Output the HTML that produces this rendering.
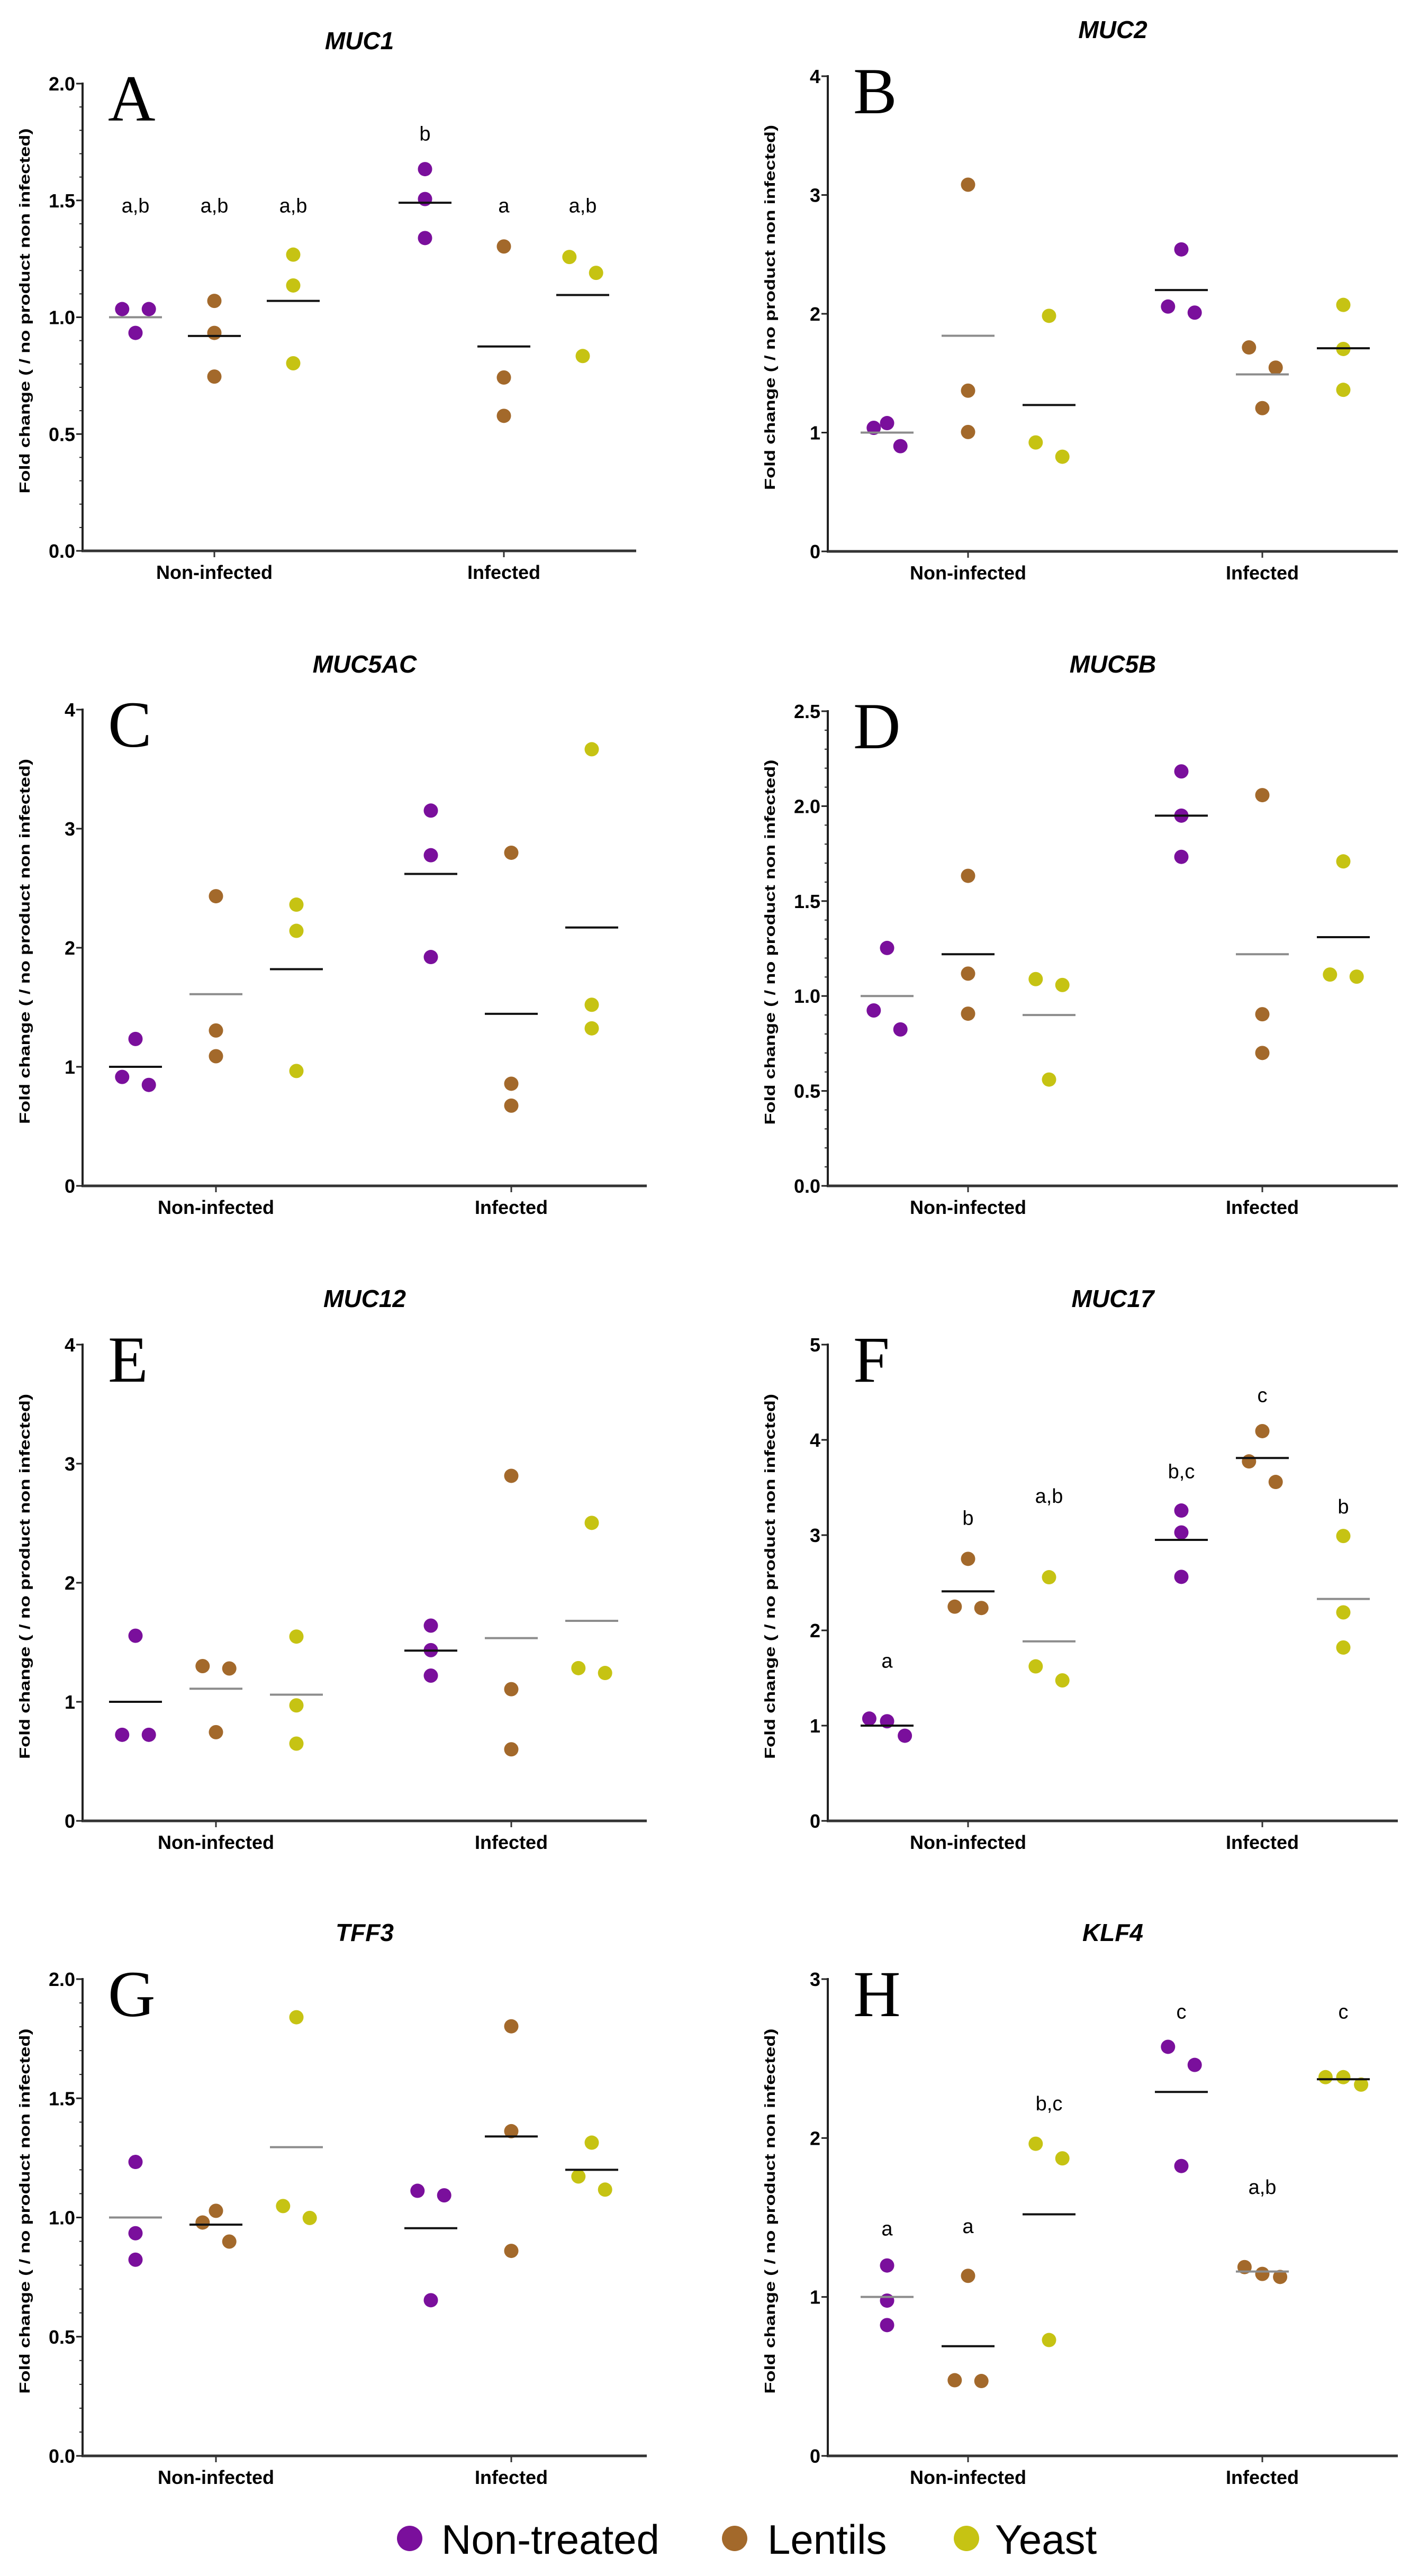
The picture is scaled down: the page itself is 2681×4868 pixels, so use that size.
<!DOCTYPE html>
<html><head><meta charset="utf-8"><title>Mucin gene expression</title>
<style>
html,body{margin:0;padding:0;background:#fff;}
svg{display:block;}
</style></head>
<body>
<svg id="fig" xmlns="http://www.w3.org/2000/svg" width="2681" height="4868" viewBox="0 0 2681 4868"></svg>
<script>
const groups = ["Non-infected","Infected"];
const treatments = ["Non-treated","Lentils","Yeast"];
const colors = ["#7a0f9c","#a3692b","#c6c313"];

// Panel A MUC1
const valuesA = [[1.035,1.035,0.933],[1.07,0.933,0.746],[1.268,1.136,0.803],[1.634,1.506,1.339],[1.303,0.742,0.578],[1.258,1.19,0.834]];
const meansA = [1.0,0.92,1.07,1.49,0.875,1.095];
const lettersA = ["a,b","a,b","a,b","b","a","a,b"];
const letterValA = [1.478,1.478,1.478,1.786,1.478,1.478];
const ticksA = ["0.0","0.5","1.0","1.5","2.0"];
// Panel B MUC2
const valuesB = [[1.04,1.08,0.886],[3.087,1.353,1.005],[1.983,0.917,0.797],[2.542,2.061,2.01],[1.717,1.547,1.206],[2.075,1.704,1.36]];
const meansB = [1.0,1.815,1.232,2.2,1.49,1.71];
const ticksB = ["0","1","2","3","4"];
// Panel C MUC5AC
const valuesC = [[1.234,0.915,0.848],[2.433,1.305,1.089],[2.362,2.142,0.965],[3.152,2.777,1.922],[2.798,0.858,0.674],[3.667,1.521,1.323]];
const meansC = [1.0,1.61,1.82,2.62,1.445,2.17];
const ticksC = ["0","1","2","3","4"];
// Panel D MUC5B
const valuesD = [[1.253,0.924,0.824],[1.633,1.118,0.907],[1.089,1.058,0.56],[2.183,1.95,1.733],[2.058,0.904,0.7],[1.709,1.113,1.102]];
const meansD = [1.0,1.22,0.9,1.95,1.22,1.31];
const ticksD = ["0.0","0.5","1.0","1.5","2.0","2.5"];
// Panel E MUC12
const valuesE = [[1.555,0.723,0.723],[1.3,1.28,0.745],[1.548,0.97,0.649],[1.64,1.434,1.22],[2.898,1.106,0.601],[2.503,1.283,1.242]];
const meansE = [1.0,1.11,1.06,1.43,1.535,1.68];
const ticksE = ["0","1","2","3","4"];
// Panel F MUC17
const valuesF = [[1.074,1.046,0.894],[2.751,2.249,2.235],[2.558,1.622,1.475],[3.258,3.028,2.562],[4.092,3.774,3.558],[2.991,2.189,1.82]];
const meansF = [1.0,2.41,1.885,2.95,3.81,2.33];
const lettersF = ["a","b","a,b","b,c","c","b"];
const letterValF = [1.68,3.18,3.41,3.67,4.47,3.3];
const ticksF = ["0","1","2","3","4","5"];
// Panel G TFF3
const valuesG = [[1.233,0.934,0.823],[1.028,0.979,0.899],[1.84,1.048,0.998],[1.112,1.093,0.653],[1.802,1.362,0.86],[1.314,1.172,1.117]];
const meansG = [1.0,0.97,1.295,0.955,1.34,1.2];
const ticksG = ["0.0","0.5","1.0","1.5","2.0"];
// Panel H KLF4
const valuesH = [[1.198,0.977,0.823],[1.133,0.476,0.471],[1.964,1.872,0.729],[2.574,2.46,1.824],[1.188,1.145,1.126],[2.383,2.383,2.336]];
const meansH = [1.0,0.69,1.52,2.29,1.16,2.37];
const lettersH = ["a","a","b,c","c","a,b","c"];
const letterValH = [1.43,1.445,2.217,2.795,1.691,2.795];
const ticksH = ["0","1","2","3"];

// horizontal jitter slots (categorical offsets within a column)
const jitter = {
 A:[[-0.6,0.6,0],[0,0,0],[0,0,0],[0,0,0],[0,0,0],[-0.6,0.6,0]],
 B:[[-0.6,0,0.6],[0,0,0],[0,-0.6,0.6],[0,-0.6,0.6],[-0.6,0.6,0],[0,0,0]],
 C:[[0,-0.6,0.6],[0,0,0],[0,0,0],[0,0,0],[0,0,0],[0,0,0]],
 D:[[0,-0.6,0.6],[0,0,0],[-0.6,0.6,0],[0,0,0],[0,0,0],[0,-0.6,0.6]],
 E:[[0,-0.6,0.6],[-0.6,0.6,0],[0,0,0],[0,0,0],[0,0,0],[0,-0.6,0.6]],
 F:[[-0.8,0,0.8],[0,-0.6,0.6],[0,-0.6,0.6],[0,0,0],[0,-0.6,0.6],[0,0,0]],
 G:[[0,0,0],[0,-0.6,0.6],[0,-0.6,0.6],[-0.6,0.6,0],[0,0,0],[0,-0.6,0.6]],
 H:[[0,0,0],[0,-0.6,0.6],[-0.6,0.6,0],[-0.6,0.6,0],[-0.8,0,0.8],[-0.8,0,0.8]]
};
const meanShade = {
 A:"gkkkkk", B:"ggkkgk", C:"kgkkkk", D:"gkgkgk",
 E:"kggkgg", F:"kkgkkg", G:"gkgkkk", H:"gkkkgk"
};

const panels = [
 {id:"A",title:"MUC1",vals:valuesA,means:meansA,ticks:ticksA,max:2,minor:0.1,letters:lettersA,lv:letterValA,col:0,top:158,bottom:1041,x1:1202,tk:[405,952],sp:149,titleY:93},
 {id:"B",title:"MUC2",vals:valuesB,means:meansB,ticks:ticksB,max:4,minor:0,col:1,top:144,bottom:1042,titleY:72},
 {id:"C",title:"MUC5AC",vals:valuesC,means:meansC,ticks:ticksC,max:4,minor:0,col:0,top:1341,bottom:2241,titleY:1271},
 {id:"D",title:"MUC5B",vals:valuesD,means:meansD,ticks:ticksD,max:2.5,minor:0.1,col:1,top:1344,bottom:2241,titleY:1271},
 {id:"E",title:"MUC12",vals:valuesE,means:meansE,ticks:ticksE,max:4,minor:0,col:0,top:2541,bottom:3441,titleY:2470},
 {id:"F",title:"MUC17",vals:valuesF,means:meansF,ticks:ticksF,max:5,minor:0,letters:lettersF,lv:letterValF,col:1,top:2541,bottom:3441,titleY:2470},
 {id:"G",title:"TFF3",vals:valuesG,means:meansG,ticks:ticksG,max:2,minor:0.1,col:0,top:3740,bottom:4641,titleY:3668},
 {id:"H",title:"KLF4",vals:valuesH,means:meansH,ticks:ticksH,max:3,minor:0,letters:lettersH,lv:letterValH,col:1,top:3740,bottom:4641,titleY:3668}
];

const NS="http://www.w3.org/2000/svg";
const svg=document.getElementById('fig');
function mk(tag,attrs,parent){const e=document.createElementNS(NS,tag);for(const k in attrs)e.setAttribute(k,attrs[k]);(parent||svg).appendChild(e);return e;}

panels.forEach(p=>{
  const x0 = p.col===0?156:1564;
  const x1 = p.x1 || (p.col===0?1222:2641);
  const tk = p.tk || (p.col===0?[408,966]:[1829,2385]);
  const sp = p.sp || (p.col===0?152:153);
  const yS = v => p.bottom - (v/p.max)*(p.bottom-p.top);
  const g = mk('g',{});
  
  

  const t = mk('text',{x:(x0+x1)/2,y:p.titleY,'text-anchor':'middle','font-family':'Liberation Sans, sans-serif','font-weight':'bold','font-style':'italic','font-size':46},g);
  t.textContent=p.title;
  
  

  const L = mk('text',{x:x0+48,y:p.top+70,'font-family':'Liberation Serif, serif','font-size':124},g);
  L.textContent=p.id;
  
  

  // y axis title
  const cy=(p.top+p.bottom)/2-12, ax=x0-100;
  const yt = mk('text',{x:ax,y:cy,transform:`rotate(-90 ${ax} ${cy})`,'text-anchor':'middle','font-family':'Liberation Sans, sans-serif','font-weight':'bold','font-size':28,textLength:690,lengthAdjust:'spacingAndGlyphs'},g);
  yt.textContent='Fold change ( / no product  non infected)';
  
  

  // axes
  const ya = mk('line',{x1:x0,y1:p.top-2,x2:x0,y2:p.bottom+2,stroke:'#222','stroke-width':4},g);
  
  
  const xa = mk('line',{x1:x0-2,y1:p.bottom,x2:x1,y2:p.bottom,stroke:'#333','stroke-width':5},g);
  
  

  if(p.minor){
    for(let v=p.minor; v<p.max-1e-6; v+=p.minor){
      const m=mk('line',{x1:x0-6,y1:yS(v),x2:x0,y2:yS(v),stroke:'#222','stroke-width':2},g);
      
      
    }
  }
  p.ticks.forEach(tl=>{
    const v=parseFloat(tl), y=yS(v);
    const tm=mk('line',{x1:x0-12,y1:y,x2:x0,y2:y,stroke:'#222','stroke-width':3},g);
    
    
    const tt=mk('text',{x:x0-14,y:y+13,'text-anchor':'end','font-family':'Liberation Sans, sans-serif','font-weight':'bold','font-size':36},g);
    tt.textContent=tl;
    
    
  });
  groups.forEach((gn,gi)=>{
    const xm=mk('line',{x1:tk[gi],y1:p.bottom,x2:tk[gi],y2:p.bottom+12,stroke:'#333','stroke-width':3},g);
    
    
    const xl=mk('text',{x:tk[gi],y:p.bottom+53,'text-anchor':'middle','font-family':'Liberation Sans, sans-serif','font-weight':'bold','font-size':36},g);
    xl.textContent=gn;
    
    
  });

  // points and means
  p.vals.forEach((col,ci)=>{
    const gi=Math.floor(ci/3), ti=ci%3;
    const cx=tk[gi]+(ti-1)*sp;
    const shade=meanShade[p.id][ci]==='g'?'#8c8c8c':'#111';
    col.forEach((v,k)=>{
      const c=mk('circle',{cx:cx+jitter[p.id][ci][k]*42,cy:yS(v),r:13.5,fill:colors[ti]},g);
      
      
    });
    const ml=mk('line',{x1:cx-50,y1:yS(p.means[ci]),x2:cx+50,y2:yS(p.means[ci]),stroke:shade,'stroke-width':4},g);
    
    
    if(p.letters){
      const lt=mk('text',{x:cx,y:yS(p.lv[ci])+13,'text-anchor':'middle','font-family':'Liberation Sans, sans-serif','font-size':38},g);
      lt.textContent=p.letters[ci];
      
      
    }
  });
});

// legend
const legX=[774,1388,1826], legTX=[834,1450,1880];
const lg=mk('g',{});


treatments.forEach((tn,i)=>{
  const d=mk('circle',{cx:legX[i],cy:4797,r:24,fill:colors[i]},lg);
  
  
  const t=mk('text',{x:legTX[i],y:4826,'font-family':'Liberation Sans, sans-serif','font-size':78},lg);
  t.textContent=tn;
  
  
});
</script>
</body></html>
